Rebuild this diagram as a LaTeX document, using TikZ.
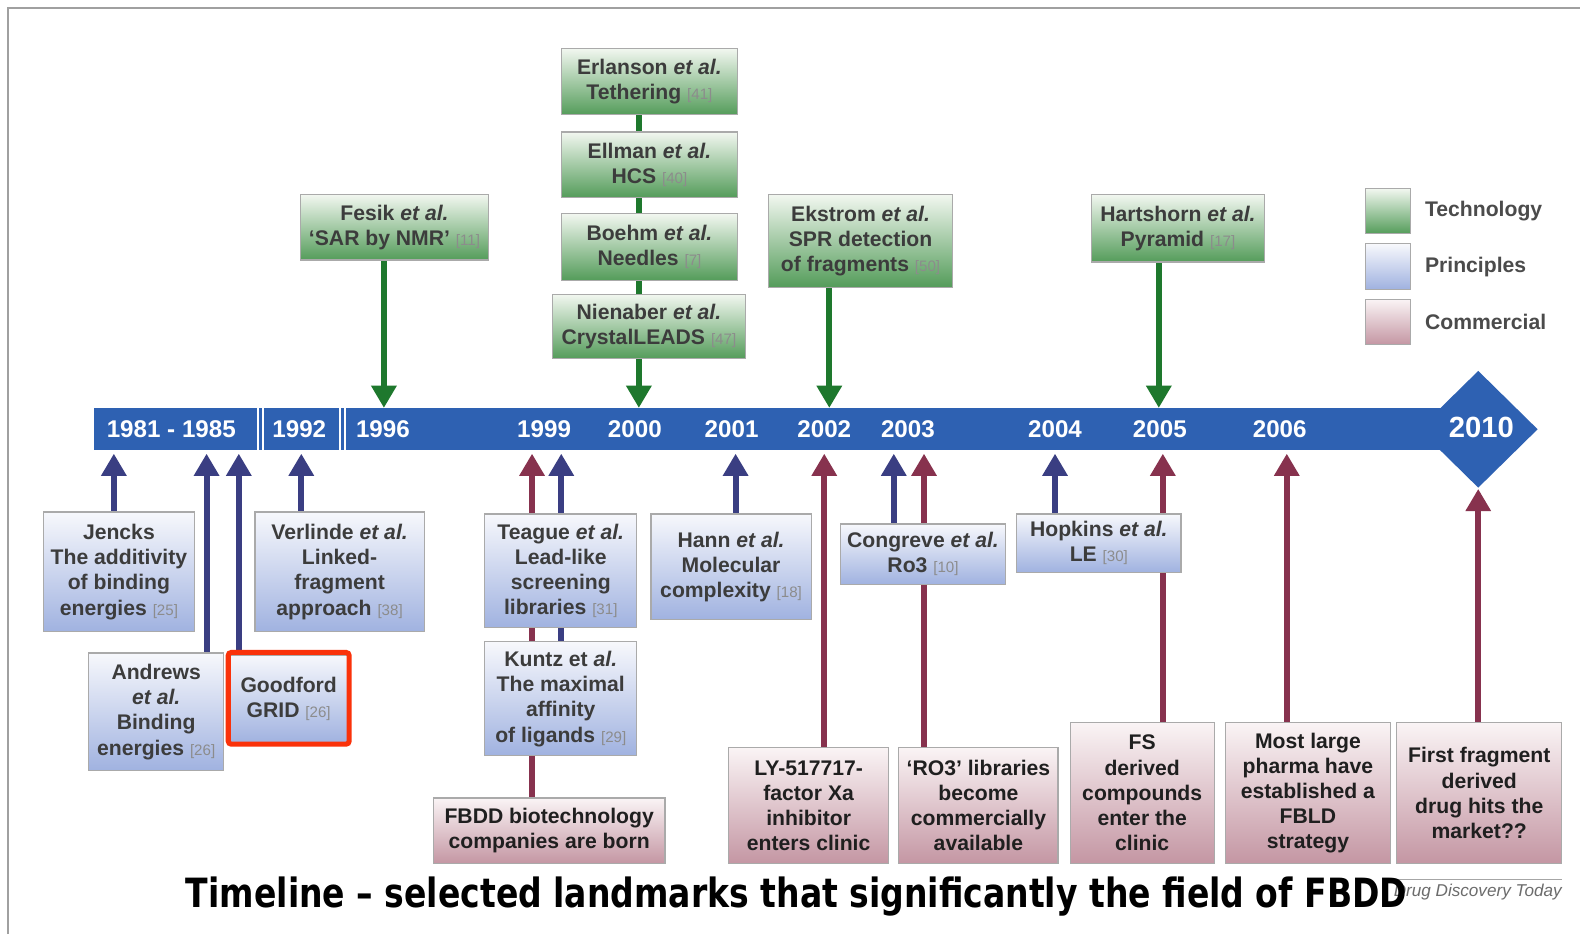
\documentclass[tikz,border=0pt]{standalone}
\usepackage{fontspec}
\setmainfont{Liberation Sans}
\newfontfamily\capfont[FakeStretch=0.82]{DejaVu Sans}
\usetikzlibrary{arrows.meta,shapes.geometric}
\definecolor{barblue}{RGB}{46,97,178}
\definecolor{tgreen}{RGB}{30,120,45}
\definecolor{pblue}{RGB}{58,62,130}
\definecolor{cmaroon}{RGB}{135,50,78}
\definecolor{gtop}{RGB}{242,247,240}
\definecolor{gbot}{RGB}{84,156,90}
\definecolor{btop}{RGB}{247,248,252}
\definecolor{bbot}{RGB}{160,178,224}
\definecolor{mtop}{RGB}{250,244,245}
\definecolor{mbot}{RGB}{196,150,163}
\definecolor{boxgray}{RGB}{170,170,170}
\definecolor{txtgray}{RGB}{60,60,60}
\definecolor{citegray}{RGB}{140,140,140}
\definecolor{hlred}{RGB}{250,50,10}
\definecolor{leggray}{RGB}{75,75,75}
\definecolor{framegray}{RGB}{160,160,160}
\newcommand\cit[1]{{\mdseries\fontsize{15}{15}\selectfont\color{citegray}#1}}
\pgfdeclarelayer{bg}
\pgfdeclarelayer{canvas}
\pgfsetlayers{canvas,bg,main}
\tikzset{
  arr/.style={line width=6pt, -{Triangle[width=24pt,length=22pt]}},
  garr/.style={arr, draw=tgreen},
  barr/.style={arr, draw=pblue},
  marr/.style={arr, draw=cmaroon},
  glink/.style={line width=6pt, draw=tgreen},
  box/.style={draw=boxgray, line width=1.2pt, align=center, inner sep=1pt,
    font=\bfseries\fontsize{21}{25}\selectfont, text=txtgray},
  tech/.style={box, top color=gtop, bottom color=gbot},
  prin/.style={box, top color=btop, bottom color=bbot},
  comm/.style={box, top color=mtop, bottom color=mbot, text=black!88},
  yr/.style={text=white, font=\bfseries\fontsize{24}{24}\selectfont, inner sep=0pt},
  leglab/.style={anchor=west, text=leggray, font=\bfseries\fontsize{21}{21}\selectfont, inner sep=0pt},
}
\begin{document}
\begin{tikzpicture}[x=1pt,y=-1pt]
\useasboundingbox (0,0) rectangle (1568,927);
\begin{pgfonlayer}{canvas}
\fill[white] (0,0) rectangle (1568,927);
\draw[framegray, line width=1.8pt] (8,927) -- (8,8) -- (1568,8);
\end{pgfonlayer}

% timeline bar
\node[fill=barblue, minimum width=1340pt, minimum height=42pt, inner sep=0pt] (bar) at (763,426) {};
\node[diamond, fill=barblue, minimum width=118pt, minimum height=116pt, inner sep=0pt] (diam) at (1467,426) {};
\draw[white, line width=2pt] (256,0 |- bar.north) -- (256,0 |- bar.south);
\draw[white, line width=2pt] (261,0 |- bar.north) -- (261,0 |- bar.south);
\draw[white, line width=2pt] (337,0 |- bar.north) -- (337,0 |- bar.south);
\draw[white, line width=2pt] (342,0 |- bar.north) -- (342,0 |- bar.south);

\node[yr] (y81) at (170,426) {1981 - 1985};
\node[yr] (y92) at (297,426) {1992};
\node[yr] (y96) at (380,426) {1996};
\node[yr] (y99) at (540,426) {1999};
\node[yr] (y00) at (630,426) {2000};
\node[yr] (y01) at (726,426) {2001};
\node[yr] (y02) at (818,426) {2002};
\node[yr] (y03) at (901,426) {2003};
\node[yr] (y04) at (1047,426) {2004};
\node[yr] (y05) at (1151,426) {2005};
\node[yr] (y06) at (1270,426) {2006};
\node[yr, font=\bfseries\fontsize{29}{29}\selectfont] (y10) at (1470,424) {2010};

% technology boxes
\node[tech, minimum width=187pt, minimum height=65pt] (fesik) at (391.5,225.5) {Fesik \textit{et al.}\\‘SAR by NMR’ \cit{[11]}};
\node[tech, minimum width=175pt, minimum height=66pt] (erlanson) at (644.5,81) {Erlanson \textit{et al.}\\Tethering \cit{[41]}};
\node[tech, minimum width=175pt, minimum height=65pt] (ellman) at (644.5,163.5) {Ellman \textit{et al.}\\HCS \cit{[40]}};
\node[tech, minimum width=175pt, minimum height=66pt] (boehm) at (644.5,245) {Boehm \textit{et al.}\\Needles \cit{[7]}};
\node[tech, minimum width=192pt, minimum height=64pt] (nienaber) at (644,324) {Nienaber \textit{et al.}\\CrystalLEADS \cit{[47]}};
\node[tech, minimum width=182pt, minimum height=92pt] (ekstrom) at (854,239) {Ekstrom \textit{et al.}\\SPR detection\\of fragments \cit{[50]}};
\node[tech, minimum width=172pt, minimum height=67pt] (hartshorn) at (1169,226.5) {Hartshorn \textit{et al.}\\Pyramid \cit{[17]}};

% legend
\node[tech, minimum size=45pt, inner sep=0pt] (legT) at (1377.5,209.5) {};
\node[prin, minimum size=45pt, inner sep=0pt] (legP) at (1377.5,264.5) {};
\node[comm, minimum size=45pt, inner sep=0pt] (legC) at (1377.5,319.5) {};
\node[leglab] (legTl) at (1414,209.5) {Technology};
\node[leglab] (legPl) at (1414,264.5) {Principles};
\node[leglab] (legCl) at (1414,319.5) {Commercial};

% principles boxes
\node[prin, minimum width=150pt, minimum height=119pt] (jencks) at (118,567.5) {Jencks\\The additivity\\of binding\\energies \cit{[25]}};
\node[prin, minimum width=134pt, minimum height=117pt] (andrews) at (155,706.5) {Andrews\\\textit{et al.}\\Binding\\energies \cit{[26]}};
\node[prin, minimum width=117pt, minimum height=87pt] (goodford) at (286.5,693.5) {Goodford\\GRID \cit{[26]}};
\node[prin, minimum width=168pt, minimum height=119pt] (verlinde) at (337,567.5) {Verlinde \textit{et al.}\\Linked-\\fragment\\approach \cit{[38]}};
\node[prin, minimum width=151pt, minimum height=113pt] (teague) at (556.5,566.5) {Teague \textit{et al.}\\Lead-like\\screening\\libraries \cit{[31]}};
\node[prin, minimum width=151pt, minimum height=113pt] (kuntz) at (556.5,693.5) {Kuntz et \textit{al.}\\The maximal\\affinity\\of ligands \cit{[29]}};
\node[prin, minimum width=159pt, minimum height=105pt] (hann) at (725.5,562.5) {Hann \textit{et al.}\\Molecular\\complexity \cit{[18]}};
\node[prin, minimum width=164pt, minimum height=60pt] (congreve) at (916,550) {Congreve \textit{et al.}\\Ro3 \cit{[10]}};
\node[prin, minimum width=163pt, minimum height=58pt] (hopkins) at (1090.5,539) {Hopkins \textit{et al.}\\LE \cit{[30]}};

% highlight
\node[draw=hlred, line width=5pt, rounded corners=3pt, minimum width=120pt, minimum height=91pt, inner sep=0pt] (hl) at (286.5,693) {};

% commercial boxes
\node[comm, minimum width=230pt, minimum height=65pt] (fbdd) at (545,824.5) {FBDD biotechnology\\companies are born};
\node[comm, minimum width=159pt, minimum height=115pt] (ly) at (802.5,799.5) {LY-517717-\\factor Xa\\inhibitor\\enters clinic};
\node[comm, minimum width=158pt, minimum height=115pt] (ro3) at (971,799.5) {‘RO3’ libraries\\become\\commercially\\available};
\node[comm, minimum width=143pt, minimum height=140pt] (fs) at (1133.5,787) {FS\\derived\\compounds\\enter the\\clinic};
\node[comm, minimum width=164pt, minimum height=140pt] (most) at (1298,787) {Most large\\pharma have\\established a\\FBLD\\strategy};
\node[comm, minimum width=164pt, minimum height=140pt] (first) at (1468,787) {First fragment\\derived\\drug hits the\\market??};

% connectors
\begin{pgfonlayer}{bg}
\draw[garr] (381,0 |- fesik.south) -- (381,0 |- bar.north);
\draw[glink] (634,0 |- erlanson.south) -- (634,0 |- ellman.north);
\draw[glink] (634,0 |- ellman.south) -- (634,0 |- boehm.north);
\draw[glink] (634,0 |- boehm.south) -- (634,0 |- nienaber.north);
\draw[garr] (634,0 |- nienaber.south) -- (634,0 |- bar.north);
\draw[garr] (823,0 |- ekstrom.south) -- (823,0 |- bar.north);
\draw[garr] (1150,0 |- hartshorn.south) -- (1150,0 |- bar.north);

\draw[barr, shorten >=3pt] (113,0 |- jencks.north) -- (113,0 |- bar.south);
\draw[barr, shorten >=3pt] (205,0 |- andrews.north) -- (205,0 |- bar.south);
\draw[barr, shorten >=3pt] (237,0 |- goodford.north) -- (237,0 |- bar.south);
\draw[barr, shorten >=3pt] (299,0 |- verlinde.north) -- (299,0 |- bar.south);
\draw[marr, shorten >=3pt] (528,0 |- fbdd.north) -- (528,0 |- bar.south);
\draw[barr, shorten >=3pt] (557,0 |- kuntz.north) -- (557,0 |- bar.south);
\draw[barr, shorten >=3pt] (730,0 |- hann.north) -- (730,0 |- bar.south);
\draw[marr, shorten >=3pt] (818,0 |- ly.north) -- (818,0 |- bar.south);
\draw[barr, shorten >=3pt] (887,0 |- congreve.north) -- (887,0 |- bar.south);
\draw[marr, shorten >=3pt] (917,0 |- ro3.north) -- (917,0 |- bar.south);
\draw[barr, shorten >=3pt] (1047,0 |- hopkins.north) -- (1047,0 |- bar.south);
\draw[marr, shorten >=3pt] (1154,0 |- fs.north) -- (1154,0 |- bar.south);
\draw[marr, shorten >=3pt] (1277,0 |- most.north) -- (1277,0 |- bar.south);
\draw[marr, shorten >=1pt] (1467,0 |- first.north) -- (diam.south);
\end{pgfonlayer}

% source and caption
\coordinate (srcL) at (1382,873);
\coordinate (srcR) at (1550,873);
\draw[gray!70, line width=1pt] (srcL) -- (srcR);
\node[anchor=base east, inner sep=0pt, text=gray!85!black, font=\itshape\fontsize{17}{17}\selectfont] (ddt) at (1550,890) {Drug Discovery Today};
\node[anchor=base, inner sep=0pt, text=black, font=\capfont\bfseries\fontsize{40}{40}\selectfont] (caption) at (790.5,901) {Timeline – selected landmarks that significantly the field of FBDD};
\end{tikzpicture}
\end{document}
